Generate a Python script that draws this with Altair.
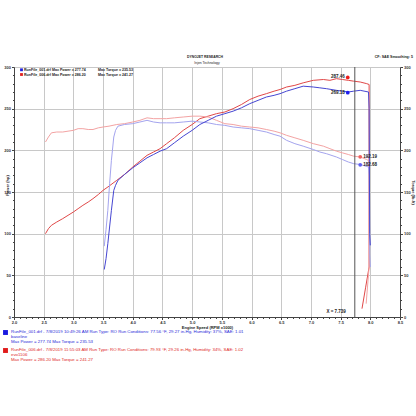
import altair as alt
import pandas as pd

# ---------------- data ----------------
# RunFile_006 (red)
red_power_rpm = [2.53, 2.58, 2.63, 2.72, 2.82, 2.91, 3.0, 3.08, 3.16, 3.25, 3.33, 3.42, 3.5, 3.6,
                 3.73, 3.86, 4.0, 4.12, 4.24, 4.35, 4.46, 4.57, 4.7, 4.85, 5.0, 5.13, 5.27, 5.41,
                 5.55, 5.69, 5.83, 5.97, 6.11, 6.25, 6.38, 6.48, 6.59, 6.73, 6.87, 7.04, 7.21,
                 7.32, 7.43, 7.53, 7.63, 7.72, 7.83, 7.94, 7.98, 7.98, 7.92, 7.86]
red_power = [100, 106, 110, 114, 118, 122, 126, 130, 134, 138, 142, 147, 152, 157, 164, 171,
             180, 187, 194, 198, 202, 208, 215, 224, 231, 238, 241, 244, 246, 250, 255, 261,
             265, 268, 271, 273, 276, 278, 281, 284, 285, 284, 286, 285, 284, 283, 282, 280,
             279, 60, 35, 10]
red_torque_rpm = [2.53, 2.58, 2.63, 2.72, 2.82, 2.91, 3.0, 3.08, 3.16, 3.25, 3.33, 3.42, 3.5, 3.6,
                  3.73, 3.86, 4.0, 4.12, 4.24, 4.35, 4.46, 4.57, 4.7, 4.85, 5.0, 5.13, 5.27, 5.41,
                  5.55, 5.69, 5.83, 5.97, 6.11, 6.25, 6.38, 6.48, 6.59, 6.73, 6.87, 7.04, 7.21,
                  7.32, 7.43, 7.53, 7.63, 7.72, 7.83, 7.94, 7.98, 7.98, 7.93]
red_torque = [210, 216, 221, 222, 222, 223, 224, 226, 226, 225, 225, 227, 228, 229, 231, 232,
              234, 236, 239, 238, 238, 238, 239, 240, 241, 241, 240, 236, 232, 231, 229, 228,
              227, 225, 223, 221, 218, 215, 212, 208, 205, 202, 199, 197, 195, 193, 192, 189,
              187, 60, 16]

# RunFile_001 (blue)
blue_rpm = [3.52, 3.55, 3.58, 3.61, 3.64, 3.68, 3.71, 3.75, 3.86, 4.0, 4.12, 4.24, 4.35, 4.46,
            4.57, 4.7, 4.85, 5.0, 5.13, 5.27, 5.41, 5.55, 5.69, 5.83, 5.97, 6.11, 6.25, 6.38,
            6.48, 6.59, 6.73, 6.87, 7.04, 7.15, 7.26, 7.43, 7.53, 7.63, 7.72, 7.83, 7.97,
            7.98, 7.99, 8.0]
blue_power = [57, 70, 88, 108, 128, 152, 158, 164, 171, 179, 185, 191, 195, 199, 202, 209, 217,
              224, 231, 236, 241, 244, 247, 251, 256, 260, 264, 266, 268, 271, 274, 277, 276,
              275, 274, 272, 271, 270, 271, 272, 270, 250, 100, 86]
blue_torque = [85, 105, 128, 160, 188, 216, 224, 229, 231, 232, 234, 236, 234, 233, 233, 233,
               234, 235, 234, 233, 231, 230, 228, 227, 226, 224, 222, 219, 217, 212, 208, 205,
               201, 198, 196, 192, 189, 186, 184, 183, 180, 170, 75, 60]

cursor_rpm = 7.739
marker_power_rpm = 7.62
marker_torque_rpm = 7.83
marker_power = [287.46, 269.18]      # red, blue
marker_torque = [192.19, 182.68]     # red, blue

legend_lines = ["RunFile_001.drf Max Power = 277.74", "RunFile_006.drf Max Power = 286.20"]
legend_torque = ["Max Torque = 235.53", "Max Torque = 241.27"]
info_blue = ["RunFile_001.drf - 7/8/2019 10:49:26 AM  Run Type: RO  Run Conditions: 77.56 °F, 29.27 in-Hg,  Humidity: 37%, SAE: 1.01",
             "baseline", "Max Power = 277.74  Max Torque = 235.53"]
info_red = ["RunFile_006.drf - 7/8/2019 11:55:03 AM  Run Type: RO  Run Conditions: 79.93 °F, 29.26 in-Hg,  Humidity: 34%, SAE: 1.02",
            "evo1106", "Max Power = 286.20  Max Torque = 241.27"]

x_ticks = [round(2.0 + 0.1 * i, 1) for i in range(66)]
y_ticks = list(range(0, 301, 10))

# ---------------- styling ----------------
RED_P, RED_T = "#e04848", "#f3a3a3"
BLUE_P, BLUE_T = "#4646d2", "#a4a4ee"
FONT = "Liberation Sans"
W, H = 386, 250

major_x = "round(datum.value*10) % 5 == 0"
major_y = "datum.value % 50 == 0"

x_enc = alt.X("rpm:Q", scale=alt.Scale(domain=[2, 8.5], nice=False, zero=False),
              axis=alt.Axis(values=x_ticks, labelExpr=f"{major_x} ? format(datum.value, '.1f') : ''",
                            labelFlush=False, labelOverlap=False, labelFontSize=4, labelFontWeight="bold",
                            labelColor="#333", labelPadding=1,
                            tickSize={"condition": {"test": major_x, "value": 2.5}, "value": 1.5},
                            tickColor="#444", domainColor="#444",
                            gridColor="#c8c8c8",
                            gridOpacity={"condition": {"test": major_x, "value": 1}, "value": 0},
                            title="Engine Speed (RPM x1000)", titleFontSize=4, titleFontWeight="bold",
                            titleColor="#222", titlePadding=1))

ysc = alt.Scale(domain=[0, 300], nice=False)


def y_axis(orient, title, tx, ty):
    return alt.Axis(orient=orient, values=y_ticks,
                    labelExpr=f"{major_y} ? datum.label : ''", labelOverlap=False,
                    labelFontSize=4, labelFontWeight="bold", labelColor="#333", labelPadding=1,
                    tickSize={"condition": {"test": major_y, "value": 2.5}, "value": 1.5},
                    tickColor="#444", domainColor="#444", gridColor="#c8c8c8",
                    gridOpacity={"condition": {"test": major_y, "value": 1}, "value": 0},
                    grid=(orient == "left"),
                    title=title, titleFontSize=4, titleFontWeight="bold", titleColor="#222",
                    titleX=tx, titleY=ty, titleBaseline="middle")


def series(rpm, vals, color, axis=None):
    df = pd.DataFrame({"rpm": rpm, "v": vals, "idx": range(len(rpm))})
    return alt.Chart(df).mark_line(color=color, strokeWidth=1, clip=True).encode(
        x=x_enc,
        y=alt.Y("v:Q", scale=ysc, axis=axis),
        order="idx:Q",
    )


blue_t = series(blue_rpm, blue_torque, BLUE_T)
blue_p = series(blue_rpm, blue_power, BLUE_P)
red_t = series(red_torque_rpm, red_torque, RED_T, axis=y_axis("right", "Torque (lb-ft)", 12, 125))
red_p = series(red_power_rpm, red_power, RED_P, axis=y_axis("left", "Power (hp)", -7, 118))

cursor = alt.Chart(pd.DataFrame({"rpm": [cursor_rpm]})).mark_rule(color="#555", strokeWidth=1).encode(x=x_enc)
cursor_lbl = alt.Chart(pd.DataFrame({"rpm": [cursor_rpm]})).mark_text(
    align="right", baseline="middle", dx=-9, fontSize=4.5, fontWeight="bold", font=FONT, color="#222"
).encode(x=x_enc, y=alt.value(245), text=alt.value(f"X = {cursor_rpm}"))

pm = pd.DataFrame({"rpm": [marker_power_rpm] * 2, "v": marker_power, "c": ["#ee1c1c", "#1c1cee"]})
tm = pd.DataFrame({"rpm": [marker_torque_rpm] * 2, "v": marker_torque, "c": ["#f26060", "#6060f2"]})


def markers(df, align, dx):
    base = alt.Chart(df).encode(x=x_enc, y=alt.Y("v:Q", scale=ysc, axis=None))
    pts = base.mark_point(filled=True, size=14, opacity=1).encode(color=alt.Color("c:N", scale=None))
    lbl = base.mark_text(align=align, baseline="middle", dx=dx, fontSize=4.5, fontWeight="bold",
                         font=FONT, color="#222").encode(text=alt.Text("v:Q", format=".2f"))
    return pts + lbl


def txt(s, x, y, size=4, color="#222", weight="normal", align="left"):
    return alt.Chart(pd.DataFrame({"t": [s]})).mark_text(
        align=align, baseline="middle", fontSize=size, fontWeight=weight, font=FONT, color=color
    ).encode(x=alt.value(x), y=alt.value(y), text="t:N")


def sq(x, y, color, size):
    return alt.Chart(pd.DataFrame({"a": [0]})).mark_square(color=color, size=size, opacity=1).encode(
        x=alt.value(x), y=alt.value(y))


texts = [
    txt("DYNOJET RESEARCH", 191, -10, 3.4, weight="bold", align="center"),
    txt("Injen Technology", 193, -4, 3.4, align="center"),
    txt("CF: SAE  Smoothing: 5", 399, -10, 3.6, weight="bold", align="right"),
    sq(7.5, 2.8, "#2020e0", 8), sq(7.5, 7.5, "#e02020", 8),
    txt(legend_lines[0], 10, 3, 3.6, weight="bold"), txt(legend_torque[0], 84, 3, 3.6, weight="bold"),
    txt(legend_lines[1], 10, 7.5, 3.6, weight="bold"), txt(legend_torque[1], 84, 7.5, 3.6, weight="bold"),
    sq(-8.5, 265.5, "#1a1ae0", 24), sq(-8.5, 283.5, "#e01a1a", 24),
]
for i, s in enumerate(info_blue):
    texts.append(txt(s, -3, 265 + 5 * i, 4.35, color="#2a2ad8"))
for i, s in enumerate(info_red):
    texts.append(txt(s, -3, 283 + 5 * i, 4.35, color="#e02828"))

chart = alt.layer(
    red_p, red_t, blue_t, blue_p, cursor, cursor_lbl,
    markers(pm, "right", -3), markers(tm, "left", 3),
    *texts,
).resolve_scale(y="independent").properties(
    width=W, height=H,
    padding={"left": 14, "top": 67, "right": 16, "bottom": 99},
    autosize=alt.AutoSizeParams(type="none"),
    background="white",
).configure_view(stroke="#444", strokeWidth=1).configure(font=FONT)

chart.save("out.html", embed_options={"renderer": "svg", "actions": False})
